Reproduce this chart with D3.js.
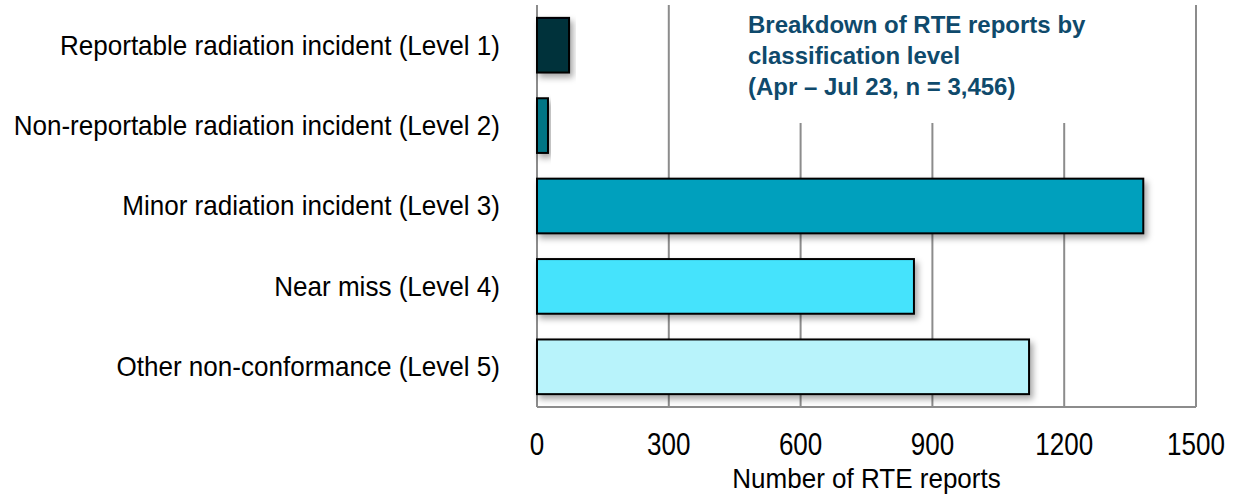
<!DOCTYPE html>
<html><head><meta charset="utf-8">
<script src="https://cdn.jsdelivr.net/npm/d3@7"></script>
<style>body{margin:0;background:#fff}svg{display:block}</style>
</head><body>
<svg id="chart" width="1235" height="494"></svg>
<script>
const categories = [
  "Reportable radiation incident (Level 1)",
  "Non-reportable radiation incident (Level 2)",
  "Minor radiation incident (Level 3)",
  "Near miss (Level 4)",
  "Other non-conformance (Level 5)"
];
const values = [73, 25, 1380, 858, 1120];
const colors = ["#00313a", "#007585", "#00a0bd", "#45e3fc", "#b8f3fb"];
const tickValues = [0, 300, 600, 900, 1200, 1500];
const titleLines = ["Breakdown of RTE reports by", "classification level", "(Apr \u2013 Jul 23, n = 3,456)"];
const xTitle = "Number of RTE reports";

const FONT = "Liberation Sans, Arial, sans-serif";
const svg = d3.select("#chart");
const x = d3.scaleLinear().domain([0, 1500]).range([537, 1196]);
const y = d3.scaleBand().domain(categories).range([5, 407]).paddingInner(0.32).paddingOuter(0.16);

const defs = svg.append("defs");
const f = defs.append("filter").attr("id", "shadow").attr("x", "-20%").attr("y", "-20%").attr("width", "140%").attr("height", "160%");
f.append("feDropShadow").attr("dx", 3).attr("dy", 4).attr("stdDeviation", 3).attr("flood-color", "#000").attr("flood-opacity", 0.35);

// gridlines
svg.append("g").selectAll("line").data(tickValues).join("line")
  .attr("x1", d => x(d)).attr("x2", d => x(d))
  .attr("y1", 5).attr("y2", 407)
  .attr("stroke", "#8c8c8c").attr("stroke-width", 2);
svg.append("line").attr("x1", x(0)).attr("x2", x(1500)).attr("y1", 407).attr("y2", 407)
  .attr("stroke", "#8c8c8c").attr("stroke-width", 2);

// title box covering gridlines
svg.append("rect").attr("x", 690).attr("y", 0).attr("width", 490).attr("height", 123).attr("fill", "#fff");
svg.append("text").attr("x", 748).attr("y", 33)
  .attr("font-family", FONT).attr("font-weight", "bold")
  .attr("font-size", 24).attr("fill", "#0f4a6c")
  .selectAll("tspan").data(titleLines).join("tspan")
  .attr("x", 748).attr("dy", (d, i) => i === 0 ? 0 : 31).text(d => d);

// bars
svg.append("g").selectAll("rect").data(values).join("rect")
  .attr("x", x(0)).attr("y", (d, i) => y(categories[i]))
  .attr("width", d => x(d) - x(0)).attr("height", y.bandwidth())
  .attr("fill", (d, i) => colors[i]).attr("stroke", "#000").attr("stroke-width", 2)
  .attr("filter", "url(#shadow)");

// category labels (condensed)
svg.append("g").selectAll("text").data(categories).join("text")
  .attr("transform", d => `translate(500,${y(d) + y.bandwidth() / 2}) scale(0.965,1)`)
  .attr("dy", "0.35em").attr("text-anchor", "end")
  .attr("font-family", FONT).attr("font-size", 27).attr("fill", "#000").text(d => d);

// tick labels (condensed)
svg.append("g").selectAll("text").data(tickValues).join("text")
  .attr("transform", d => `translate(${x(d)},455) scale(0.84,1)`)
  .attr("text-anchor", "middle")
  .attr("font-family", FONT).attr("font-size", 31).attr("fill", "#000").text(d => d);

svg.append("text").attr("transform", `translate(${(x(0) + x(1500)) / 2},488) scale(0.93,1)`)
  .attr("text-anchor", "middle")
  .attr("font-family", FONT).attr("font-size", 28).attr("fill", "#000").text(xTitle);
</script>
</body></html>
